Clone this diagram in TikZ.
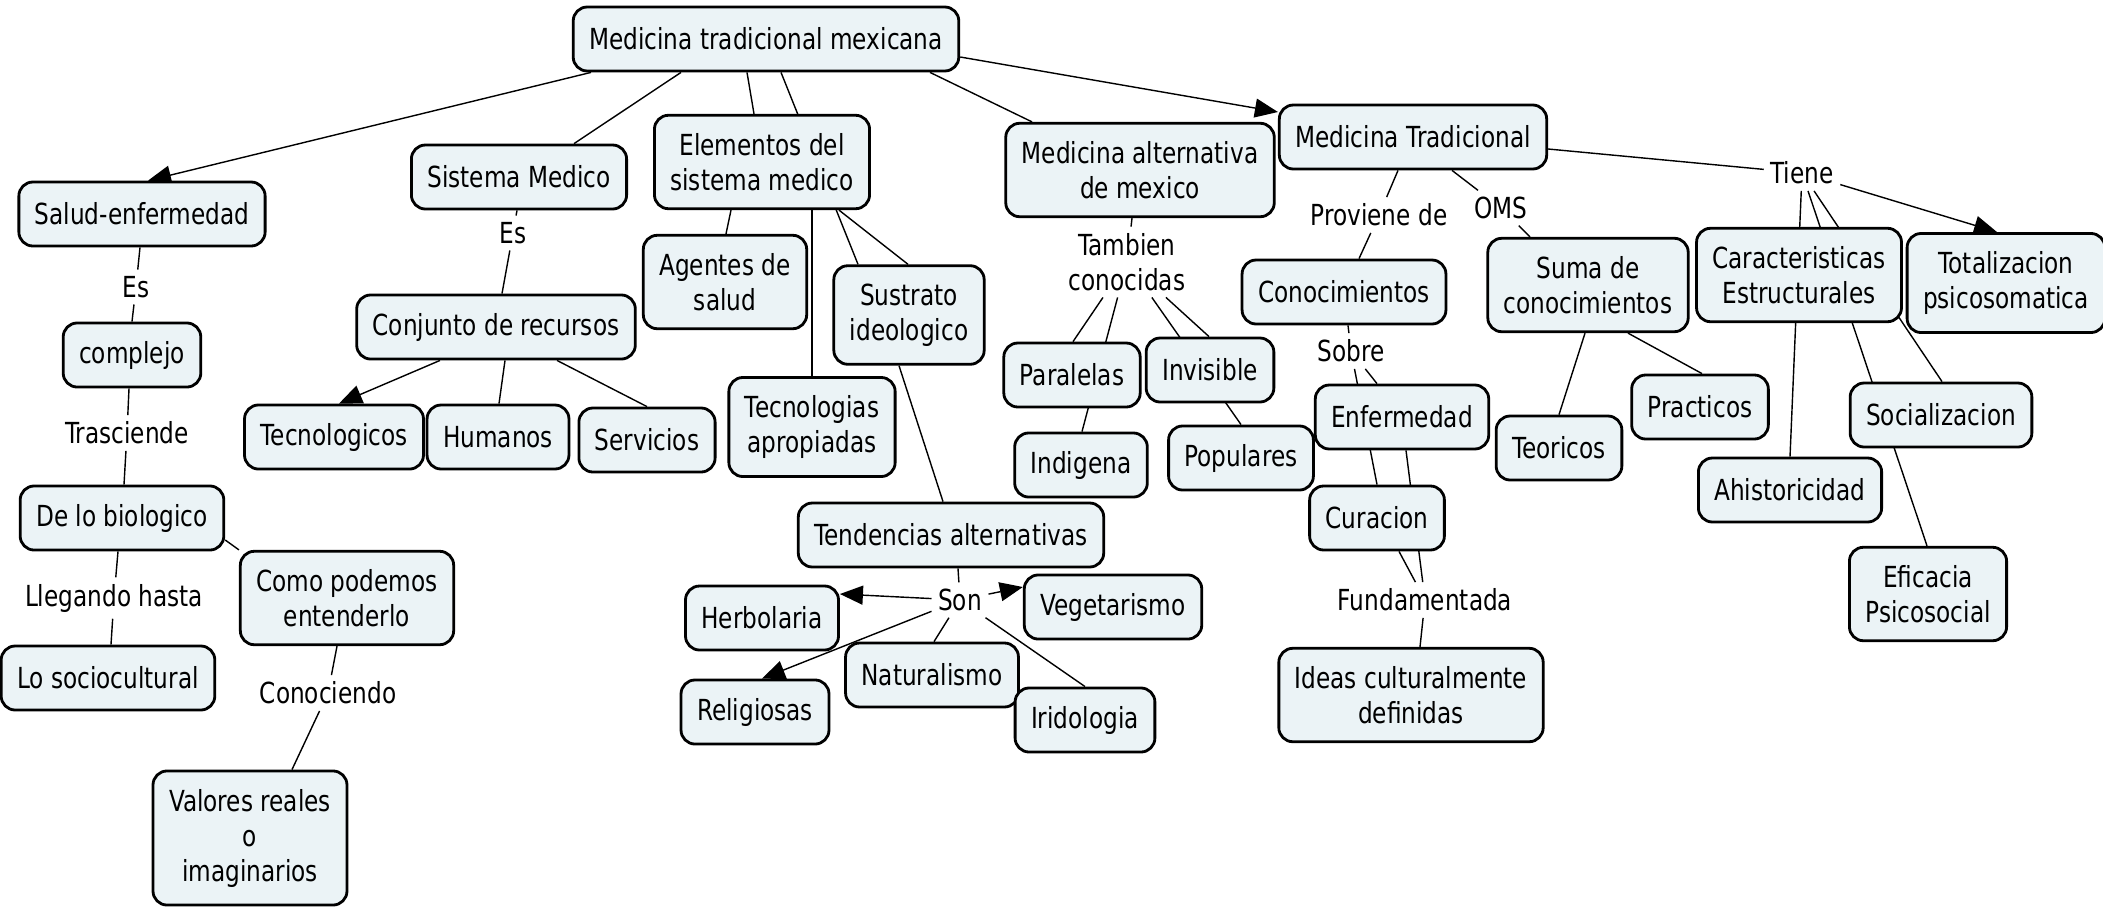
\documentclass[tikz,border=0pt]{standalone}
\usepackage{fontspec}
\setmainfont{DejaVu Sans}[FakeStretch=0.8]
\usepackage{tikz}
\usetikzlibrary{arrows.meta,backgrounds}
\definecolor{cmapfill}{RGB}{235,243,246}

\begin{document}
\begin{tikzpicture}[x=0.1mm,y=-0.1mm,
    concept/.style={draw=black,line width=0.8pt,fill=cmapfill,rounded corners=1.4mm,
      align=center,inner xsep=1.6mm,inner ysep=1.8mm,minimum height=6.4mm,
      font=\fontsize{8.25}{9.96}\selectfont},
    phrase/.style={align=center,inner sep=0.6mm,font=\fontsize{8.25}{9.96}\selectfont},
    link/.style={line width=0.75pt},
    >={Triangle[length=2.3mm,width=1.9mm]}]
    \useasboundingbox (0,0) rectangle (2103,911);

    \node[concept] (mexi)  at ( 766, 39) {Medicina tradicional mexicana};
    \node[concept] (salud) at ( 142,214) {Salud-enfermedad};
    \node[concept] (sist)  at ( 519,177) {Sistema Medico};
    \node[concept] (elem)  at ( 762,162) {Elementos del\\sistema medico};
    \node[concept] (malt)  at (1140,170) {Medicina alternativa\\de mexico};
    \node[concept] (medt)  at (1413,137) {Medicina Tradicional};
    \node[concept] (compl) at ( 132,355) {complejo};
    \node[concept] (conj)  at ( 496,327) {Conjunto de recursos};
    \node[concept] (tecn)  at ( 334,437) {Tecnologicos};
    \node[concept] (hum)   at ( 498,437) {Humanos};
    \node[concept] (serv)  at ( 647,440) {Servicios};
    \node[concept] (agen)  at ( 725,282) {Agentes de\\salud};
    \node[concept] (sust)  at ( 909,315) {Sustrato\\ideologico};
    \node[concept] (tapr)  at ( 812,427) {Tecnologias\\apropiadas};
    \node[concept] (bio)   at ( 122,518) {De lo biologico};
    \node[concept] (socio) at ( 108,678) {Lo sociocultural};
    \node[concept] (como)  at ( 347,598) {Como podemos\\entenderlo};
    \node[concept] (valo)  at ( 250,838) {Valores reales\\o\\imaginarios};
    \node[concept] (tend)  at ( 951,535) {Tendencias alternativas};
    \node[concept] (herb)  at ( 762,618) {Herbolaria};
    \node[concept] (vege)  at (1113,607) {Vegetarismo};
    \node[concept] (reli)  at ( 755,712) {Religiosas};
    \node[concept] (natu)  at ( 932,675) {Naturalismo};
    \node[concept] (irid)  at (1085,720) {Iridologia};
    \node[concept] (para)  at (1072,375) {Paralelas};
    \node[concept] (invi)  at (1210,370) {Invisible};
    \node[concept] (indi)  at (1081,465) {Indigena};
    \node[concept] (popu)  at (1241,458) {Populares};
    \node[concept] (cono)  at (1344,292) {Conocimientos};
    \node[concept] (enf)   at (1402,417) {Enfermedad};
    \node[concept] (cura)  at (1377,518) {Curacion};
    \node[concept] (ideas) at (1411,695) {Ideas culturalmente\\definidas};
    \node[concept] (suma)  at (1588,285) {Suma de\\conocimientos};
    \node[concept] (teor)  at (1559,448) {Teoricos};
    \node[concept] (prac)  at (1700,407) {Practicos};
    \node[concept] (cara)  at (1799,275) {Caracteristicas\\Estructurales};
    \node[concept] (tota)  at (2006,283) {Totalizacion\\psicosomatica};
    \node[concept] (soci)  at (1941,415) {Socializacion};
    \node[concept] (ahis)  at (1790,490) {Ahistoricidad};
    \node[concept] (efic)  at (1928,594) {Eficacia\\Psicosocial};

    \node[phrase] (es1)   at ( 136,287) {Es};
    \node[phrase] (es2)   at ( 513,233) {Es};
    \node[phrase] (trasc) at ( 127,433) {Trasciende};
    \node[phrase] (lleg)  at ( 114,598) {Llegando hasta};
    \node[phrase] (conoc) at ( 328,693) {Conociendo};
    \node[phrase] (tamb)  at (1127,262) {Tambien\\conocidas};
    \node[phrase] (son)   at ( 960,600) {Son};
    \node[phrase] (prov)  at (1379,215) {Proviene de};
    \node[phrase] (oms)   at (1501,208) {OMS};
    \node[phrase] (sobre) at (1351,351) {Sobre};
    \node[phrase] (fund)  at (1425,600) {Fundamentada};
    \node[phrase] (tiene) at (1802,173) {Tiene};

    \begin{scope}[on background layer,link]
    \fill[white] (0,0) rectangle (2103,911);
    \draw[->] (mexi.south -| 591,0) -- (salud.north -| 148,0);
    \draw (mexi.south -| 681,0) -- (sist.north -| 574,0);
    \draw (mexi.south -| 747,0) -- (elem.north -| 754,0);
    \draw (mexi.south -| 781,0) -- (sust.north -| 858,0);
    \draw (mexi.south -| 930,0) -- (malt.north -| 1032,0);
    \draw[->] (mexi.east |- 0,57) -- (medt.west |- 0,112);

    \draw (salud.south -| 140,0) -- (es1);
    \draw (es1) -- (compl.north -| 132,0);
    \draw (compl.south -| 129,0) -- (trasc);
    \draw (trasc) -- (bio.north -| 124,0);
    \draw (bio.south -| 118,0) -- (lleg);
    \draw (lleg) -- (socio.north -| 111,0);
    \draw (bio.east |- 0,540) -- (como.north west);
    \draw (como.south -| 337,0) -- (conoc);
    \draw (conoc) -- (valo.north -| 292,0);

    \draw (sist.south -| 517,0) -- (es2);
    \draw (es2) -- (conj.north -| 502,0);
    \draw[->] (conj.south -| 440,0) -- (tecn.north -| 339,0);
    \draw (conj.south -| 505,0) -- (hum.north -| 499,0);
    \draw (conj.south -| 557,0) -- (serv.north -| 647,0);

    \draw (elem.south -| 731,0) -- (agen.north -| 726,0);
    \draw (elem.south -| 812,0) -- (tapr.north -| 812,0);
    \draw (elem.south -| 839,0) -- (sust.north -| 908,0);
    \draw (sust.south -| 899,0) -- (tend.north -| 943,0);
    \draw (tend.south -| 958,0) -- (son);
    \draw[->] (son) -- (herb.east |- 0,594);
    \draw[->] (son) -- (vege.west |- 0,587);
    \draw[->] (son) -- (reli.north -| 762,0);
    \draw (son) -- (natu.north -| 934,0);
    \draw (son) -- (irid.north -| 1085,0);

    \draw (malt.south -| 1132,0) -- (tamb);
    \draw (tamb) -- (para.north -| 1073,0);
    \draw (tamb) -- (indi.north -| 1082,0);
    \draw (tamb) -- (invi.north -| 1209,0);
    \draw (tamb) -- (popu.north -| 1241,0);

    \draw (medt.south -| 1398,0) -- (prov);
    \draw (prov) -- (cono.north -| 1359,0);
    \draw (medt.south -| 1452,0) -- (oms);
    \draw (oms) -- (suma.north -| 1530,0);
    \draw (medt.east |- 0,149) -- (tiene);
    \draw[->] (tiene) -- (tota.north -| 1997,0);
    \draw (tiene) -- (ahis.north -| 1790,0);
    \draw (tiene) -- (efic.north -| 1927,0);
    \draw (tiene) -- (soci.north -| 1942,0);
    \draw (cono.south -| 1348,0) -- (sobre);
    \draw (sobre) -- (enf.north -| 1377,0);
    \draw (sobre) -- (cura.north -| 1377,0);
    \draw (enf.south -| 1406,0) -- (fund);
    \draw (cura.south -| 1399,0) -- (fund);
    \draw (fund) -- (ideas.north -| 1420,0);
    \draw (suma.south -| 1585,0) -- (teor.north -| 1559,0);
    \draw (suma.south -| 1628,0) -- (prac.north -| 1702,0);
    \end{scope}
\end{tikzpicture}
\end{document}
